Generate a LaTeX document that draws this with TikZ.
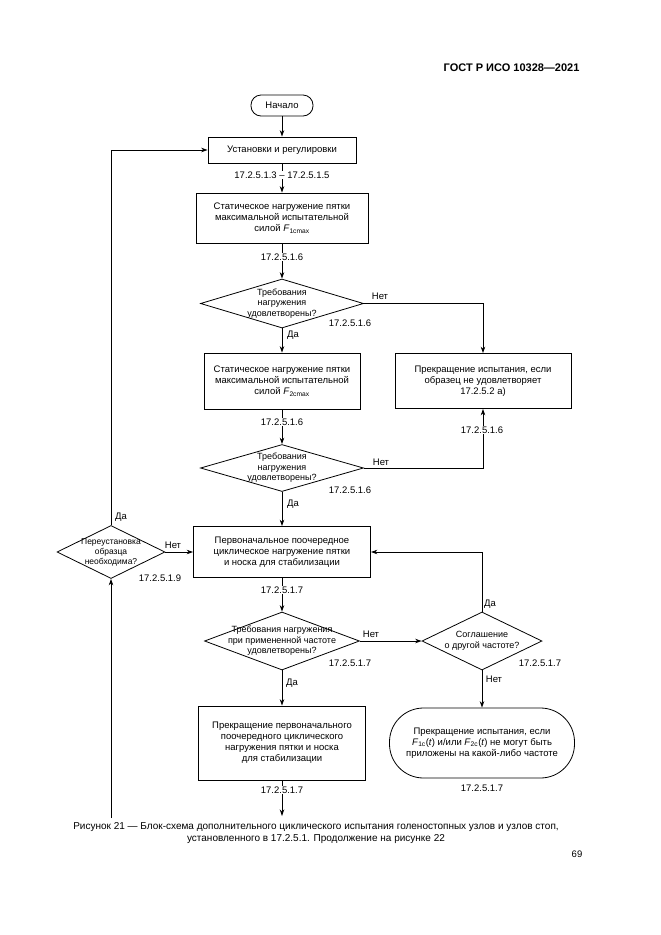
\documentclass[tikz,border=0pt]{standalone}
\usepackage{fontspec}
\setmainfont{Liberation Sans}
\usetikzlibrary{arrows.meta}
\usetikzlibrary{shapes.geometric}
\newcommand{\chartfont}{\fontsize{9.5}{11}\selectfont}
\newcommand{\askfont}{\fontsize{9}{10.5}\selectfont}
\tikzset{>={Stealth[length=6.5pt, width=4.5pt]},
         link/.style = {line width=0.8pt},
         block/.style = {draw, line width=0.8pt, align=center, inner sep=2pt},
         term/.style = {draw, line width=0.8pt, align=center, inner sep=2pt},
         decision/.style = {diamond, draw, line width=0.8pt, inner sep=0pt},
         txt/.style = {align=center, inner sep=0pt, font=\askfont},
         ref/.style = {fill=white, inner sep=1pt}}

\begin{document}
\begin{tikzpicture}[x=1pt, y=-1pt, every node/.style={font=\chartfont}]
      \useasboundingbox (0, 0) rectangle (661, 935);

      \node [anchor=east, font=\bfseries\fontsize{11}{13}\selectfont] (gost) at (583, 68) {ГОСТ Р ИСО 10328—2021};

      % main column
      \node [term, rounded corners=10pt, minimum width=62, minimum height=21] (start) at (282, 105.5) {Начало};
      \node [block, minimum width=148, minimum height=26] (setup) at (282, 150) {Установки и регулировки};
      \node [block, minimum width=172, minimum height=50] (stat1) at (282, 218) {Статическое нагружение пятки\\максимальной испытательной\\силой \textit{F}\textsubscript{1cmax}};
      \node [decision, minimum width=163, minimum height=49] (req1) at (282, 303.5) {};
      \node [txt] (req1txt) at (req1) {Требования\\нагружения\\удовлетворены?};
      \node [block, minimum width=156, minimum height=56] (stat2) at (282, 381) {Статическое нагружение пятки\\максимальной испытательной\\силой \textit{F}\textsubscript{2cmax}};
      \node [decision, minimum width=163, minimum height=47] (req2) at (282, 468) {};
      \node [txt] (req2txt) at (req2) {Требования\\нагружения\\удовлетворены?};
      \node [block, minimum width=177, minimum height=51] (cycle) at (282, 552) {Первоначальное поочередное\\циклическое нагружение пятки\\и носка для стабилизации};
      \node [decision, minimum width=155, minimum height=58] (freq) at (282, 641) {};
      \node [txt] (freqtxt) at (freq) {Требования нагружения\\при примененной частоте\\удовлетворены?};
      \node [block, minimum width=167, minimum height=74] (stopcyc) at (282, 743) {Прекращение первоначального\\поочередного циклического\\нагружения пятки и носка\\для стабилизации};
      \coordinate (next) at (282, 816);

      % right column
      \node [block, minimum width=176, minimum height=55] (stop1) at (483, 381) {Прекращение испытания, если\\образец не удовлетворяет\\17.2.5.2 а)};
      \node [decision, minimum width=120, minimum height=58] (other) at (482, 641) {};
      \node [txt] (othertxt) at (other) {Соглашение\\о другой частоте?};
      \node [term, rounded corners=34pt, minimum width=185, minimum height=70] (stopf) at (482, 743) {Прекращение испытания, если\\\textit{F}\textsubscript{1c}(\textit{t}) и/или \textit{F}\textsubscript{2c}(\textit{t}) не могут быть\\приложены на какой-либо частоте};

      % left column
      \node [decision, minimum width=108, minimum height=53] (reinst) at (111, 552) {};
      \node [txt, font=\fontsize{8.5}{10}\selectfont] (reinsttxt) at (reinst) {Переустановка\\образца\\необходима?};
      \coordinate (back) at (111, 818);

      % connectors
      \draw [link, ->] (start) -- (setup);
      \draw [link, ->] (setup) -- (stat1);
      \draw [link, ->] (stat1) -- (req1);
      \draw [link, ->] (req1.south) -- (stat2);
      \draw [link, ->] (req1.east) -| (stop1.north);
      \draw [link, ->] (stat2) -- (req2);
      \draw [link, ->] (req2.east) -| (stop1.south);
      \draw [link, ->] (req2.south) -- (cycle);
      \draw [link, ->] (reinst.east) -- (cycle.west);
      \draw [link, ->] (reinst.north) |- (setup.west);
      \draw [link, ->] (back) -- (reinst.south);
      \draw [link, ->] (cycle) -- (freq);
      \draw [link, ->] (freq.east) -- (other.west);
      \draw [link, ->] (other.north) |- (cycle.east);
      \draw [link, ->] (other.south) -- (stopf);
      \draw [link, ->] (freq.south) -- (stopcyc);
      \draw [link, ->] (stopcyc) -- (next);

      % references and answers
      \node [ref] (r1) at (282, 175) {17.2.5.1.3 -- 17.2.5.1.5};
      \node [ref] (r2) at (282, 257) {17.2.5.1.6};
      \node (r3) at (350, 323) {17.2.5.1.6};
      \node (no1) at (380, 296) {Нет};
      \node (yes1) at (293, 335) {Да};
      \node [ref] (r4) at (282, 422) {17.2.5.1.6};
      \node [ref] (r5) at (482, 430) {17.2.5.1.6};
      \node (r6) at (350, 490) {17.2.5.1.6};
      \node (no2) at (381, 462) {Нет};
      \node (yes2) at (293, 504) {Да};
      \node (yes3) at (121, 517) {Да};
      \node (no3) at (173, 545) {Нет};
      \node (r7) at (160, 578) {17.2.5.1.9};
      \node [ref] (r8) at (282, 590) {17.2.5.1.7};
      \node (no4) at (371, 634) {Нет};
      \node (r9) at (350, 663) {17.2.5.1.7};
      \node (yes4) at (292, 683) {Да};
      \node (yes5) at (490, 604) {Да};
      \node (r10) at (540, 663) {17.2.5.1.7};
      \node (no5) at (494, 679) {Нет};
      \node [ref] (r11) at (282, 790) {17.2.5.1.7};
      \node (r12) at (482, 788) {17.2.5.1.7};

      \node [align=center, font=\fontsize{10}{12}\selectfont] (caption) at (316, 833) {Рисунок 21 — Блок-схема дополнительного циклического испытания голеностопных узлов и узлов стоп,\\установленного в 17.2.5.1. Продолжение на рисунке 22};
      \node (page) at (577, 854) {69};

    \end{tikzpicture}
\end{document}
